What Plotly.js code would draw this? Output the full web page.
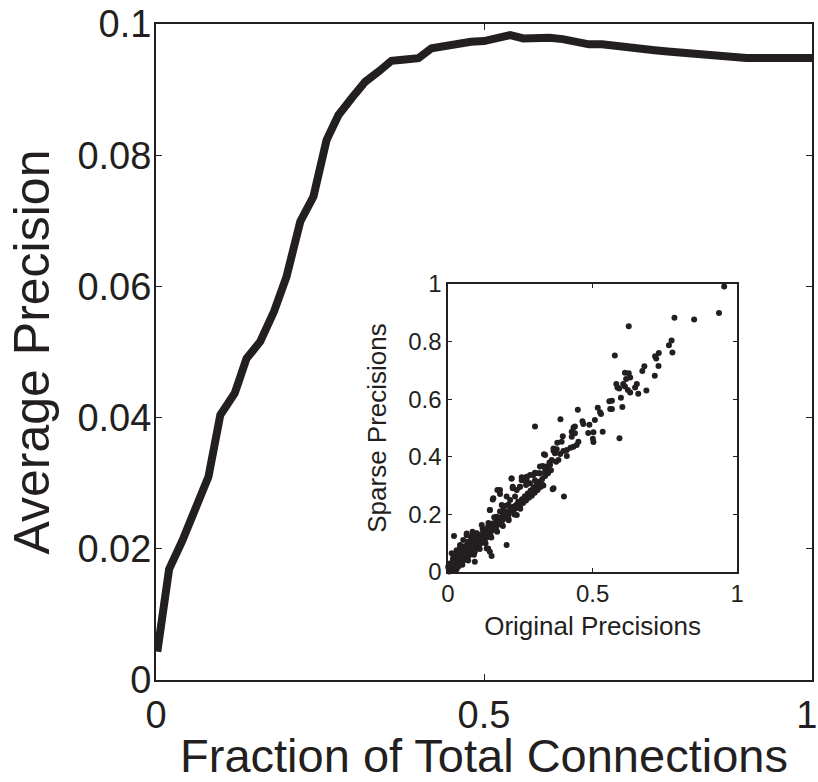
<!DOCTYPE html>
<html>
<head>
<meta charset="utf-8">
<script src="https://cdn.plot.ly/plotly-3.0.1.min.js"></script>
<style>html,body{margin:0;padding:0;background:#fff;}#chart{width:818px;height:782px;}</style>
</head>
<body>
<div id="chart"></div>
<script>
// Main curve: Average Precision vs Fraction of Total Connections
const fraction = [0.002,0.02,0.04,0.06,0.08,0.098,0.12,0.138,0.159,0.18,0.199,0.22,0.24,0.26,0.278,0.30,0.319,0.34,0.359,0.38,0.40,0.42,0.44,0.46,0.48,0.50,0.52,0.54,0.56,0.58,0.60,0.62,0.64,0.66,0.68,0.70,0.72,0.74,0.76,0.78,0.80,0.82,0.84,0.86,0.88,0.90,0.92,0.94,0.96,0.98,1.0];
const avgPrecision = [0.0043,0.0169,0.0212,0.0258,0.031,0.0404,0.0437,0.049,0.0516,0.0562,0.0615,0.0699,0.0737,0.0823,0.0861,0.0889,0.0912,0.0928,0.0944,0.0946,0.0948,0.0963,0.0967,0.0971,0.0973,0.0974,0.0978,0.0983,0.0978,0.0979,0.0979,0.0977,0.0973,0.0969,0.0969,0.0966,0.0964,0.0962,0.096,0.0958,0.0956,0.0954,0.0952,0.095,0.0949,0.0948,0.0948,0.0948,0.0948,0.0948,0.0948];

// Inset scatter: Original vs Sparse precisions
const originalPrec = [
0.955,0.937,0.851,0.783,0.625,0.773,0.764,0.776,0.729,0.716,0.720,0.577,0.679,0.728,0.672,0.715,0.612,0.625,0.616,0.630,0.606,0.582,0.586,0.653,0.647,0.612,0.622,0.630,0.658,0.686,0.592,0.598,0.603,0.567,0.558,0.567,0.561,0.518,0.526,0.529,0.508,0.449,0.389,0.465,0.468,0.489,0.535,0.485,0.503,0.501,0.503,0.593,0.434,0.439,0.428,0.439,0.428,0.451,0.445,0.434,0.424,0.411,0.399,0.397,0.378,0.393,0.376,0.365,0.388,0.411,0.332,0.359,0.374,0.351,0.341,0.328,0.301,0.347,0.336,0.318,0.301,0.284,0.272,0.255,
0.365,0.401,0.336,0.301,0.272,0.255,0.284,0.301,0.270,0.249,0.238,0.220,0.224,0.171,0.180,0.155,0.203,0.215,0.232,0.243,0.249,0.226,0.209,0.191,0.186,0.197,0.168,0.145,0.174,0.203,0.151,0.134,0.117,0.122,0.099,0.093,0.139,0.145,0.151,0.093,0.082,0.065,0.021,0.053,0.070,0.042,0.030,0.053,0.076,0.013,0.018,0.042,0.007,0.001,
0.365,0.370,0.382,0.336,0.353,0.341,0.362,0.318,0.313,0.295,0.301,0.278,0.261,0.249,0.220,0.224,0.180,0.157,0.145,0.186,0.209,0.243,0.238,0.209,0.191,0.174,0.157,0.139,0.122,0.134,0.111,0.088,0.065,0.085,0.042,0.070,0.093,0.059,0.036,0.018,0.042,0.007,
0.005,0.008,0.010,0.012,0.015,0.018,0.020,0.022,0.025,0.028,0.030,0.032,0.035,0.038,0.040,0.042,0.045,0.048,0.050,0.052,0.055,0.058,0.060,0.062,0.065,0.068,0.070,0.072,0.075,0.078,0.080,0.082,0.085,0.088,0.090,0.092,0.095,0.098,0.100,0.102,0.105,0.108,0.110,0.112,0.115,0.118,0.120,0.122,0.125,0.128,0.130,0.132,0.135,0.138,0.140,0.142,0.145,0.148,0.150,0.152,0.155,0.158,0.160,0.162,0.165,0.168,0.170,0.172,0.175,0.178,0.180,0.182,0.185,0.188,0.190,0.192,0.195,0.198,0.200,0.205,0.210,0.215,0.220,0.225,0.230,0.235,0.240,0.245,0.250,0.255,0.260,0.265,0.270,0.275,0.280,0.285,0.290,0.295,0.300,0.305,0.310,0.315,0.320,0.325,0.330,
0.020,0.030,0.040,0.050,0.060,0.070,0.080,0.100,0.120,0.140,0.160,0.180,0.200,0.030,0.050,0.070,0.090,0.110,0.130,0.150,0.170,0.190,0.210,0.230,0.250,
0.004,0.010,0.016,0.024,0.034,0.046,0.056,0.066,0.076,0.086,0.096,0.106,0.116,0.126,0.136,0.146,0.156,0.166,0.176,0.186,0.196,0.206,0.216,0.226,0.236,0.246,0.256,0.266,0.276,0.286,0.296,0.306,0.316,0.326,0.336,0.346,0.356,
0.003,0.006,0.009,0.013,0.017,0.021,0.026,0.031,0.036,0.041,0.047,0.053,0.059,0.064,0.069,0.074,0.079,0.084,0.089,0.094,0.099,0.104,0.109,0.114,0.119,0.124,0.129,0.134,0.139,0.144,
0.011,0.016,0.023,0.027,0.033,0.037,0.044,0.049,0.054,0.061,0.067,0.073,0.081,0.087,0.097,0.107,0.117,0.127,0.137,0.147,0.157,0.167,0.177,0.187,0.197
];
const sparsePrec = [
0.991,0.899,0.877,0.883,0.853,0.804,0.787,0.762,0.760,0.749,0.741,0.752,0.714,0.715,0.698,0.681,0.692,0.690,0.670,0.675,0.653,0.653,0.641,0.653,0.641,0.644,0.632,0.623,0.619,0.630,0.637,0.605,0.573,0.595,0.593,0.566,0.566,0.570,0.555,0.549,0.528,0.563,0.530,0.523,0.514,0.511,0.487,0.483,0.485,0.463,0.451,0.464,0.502,0.505,0.487,0.482,0.470,0.452,0.441,0.435,0.431,0.424,0.420,0.471,0.449,0.452,0.426,0.421,0.410,0.403,0.409,0.389,0.383,0.380,0.366,0.368,0.505,0.360,0.348,0.343,0.345,0.337,0.331,0.329,
0.291,0.262,0.360,0.343,0.325,0.319,0.308,0.285,0.302,0.296,0.285,0.325,0.296,0.285,0.271,0.252,0.262,0.250,0.262,0.239,0.221,0.227,0.233,0.227,0.209,0.192,0.192,0.215,0.169,0.094,0.157,0.146,0.163,0.128,0.134,0.123,0.082,0.070,0.056,0.036,0.123,0.134,0.125,0.111,0.100,0.088,0.076,0.070,0.070,0.065,0.048,0.042,0.030,0.018,
0.429,0.412,0.389,0.406,0.372,0.360,0.287,0.366,0.343,0.337,0.319,0.308,0.319,0.296,0.325,0.291,0.285,0.256,0.215,0.233,0.233,0.244,0.198,0.186,0.209,0.181,0.169,0.157,0.140,0.082,0.123,0.117,0.128,0.140,0.094,0.082,0.070,0.059,0.065,0.042,0.030,0.018,
0.003,0.010,0.006,0.015,0.008,0.020,0.012,0.025,0.018,0.030,0.022,0.035,0.028,0.040,0.032,0.045,0.038,0.050,0.042,0.056,0.048,0.062,0.052,0.066,0.058,0.072,0.062,0.078,0.068,0.082,0.072,0.088,0.078,0.092,0.082,0.098,0.088,0.102,0.092,0.108,0.098,0.112,0.102,0.118,0.108,0.122,0.112,0.128,0.118,0.132,0.122,0.138,0.128,0.142,0.132,0.148,0.138,0.152,0.142,0.158,0.148,0.162,0.152,0.168,0.158,0.172,0.162,0.178,0.168,0.182,0.172,0.188,0.178,0.192,0.182,0.198,0.188,0.202,0.192,0.208,0.200,0.215,0.210,0.222,0.218,0.230,0.225,0.238,0.232,0.245,0.240,0.252,0.248,0.262,0.258,0.270,0.265,0.280,0.275,0.290,0.285,0.298,0.295,0.305,0.300,
0.050,0.060,0.075,0.085,0.090,0.105,0.115,0.135,0.150,0.170,0.190,0.210,0.230,0.010,0.025,0.040,0.060,0.080,0.100,0.120,0.140,0.160,0.180,0.200,0.220,
0.002,0.008,0.014,0.020,0.030,0.042,0.053,0.063,0.073,0.083,0.093,0.103,0.113,0.123,0.133,0.143,0.153,0.163,0.173,0.183,0.193,0.203,0.213,0.223,0.233,0.243,0.253,0.263,0.273,0.283,0.293,0.303,0.313,0.323,0.333,0.343,0.353,
0.012,0.004,0.019,0.007,0.026,0.013,0.034,0.022,0.043,0.030,0.055,0.040,0.068,0.052,0.079,0.060,0.090,0.071,0.101,0.080,0.112,0.092,0.121,0.100,0.131,0.110,0.140,0.120,0.149,0.130,
0.030,0.005,0.040,0.014,0.048,0.020,0.058,0.033,0.066,0.045,0.077,0.058,0.090,0.070,0.110,0.090,0.128,0.106,0.150,0.128,0.168,0.146,0.188,0.165,0.210
];

const mainTickX = [0, 0.5, 1];
const mainTickXText = ['0', '0.5', '1\u00a0'];
const mainTickY = [0, 0.02, 0.04, 0.06, 0.08, 0.1];
const mainTickYText = ['0', '0.02', '0.04', '0.06', '0.08', '0.1'];
const insetTickX = [0, 0.5, 1];
const insetTickXText = ['0', '0.5', '1'];
const insetTickY = [0, 0.2, 0.4, 0.6, 0.8, 1];
const insetTickYText = ['0', '0.2', '0.4', '0.6', '0.8', '1'];

const ink = '#231f20';
const fam = 'Liberation Sans, Arial, Helvetica, sans-serif';

const traces = [
  {x: fraction, y: avgPrecision, type: 'scatter', mode: 'lines',
   line: {color: ink, width: 8}, xaxis: 'x', yaxis: 'y', hoverinfo: 'skip'},
  {x: originalPrec, y: sparsePrec, type: 'scatter', mode: 'markers',
   marker: {color: ink, size: 6}, xaxis: 'x2', yaxis: 'y2', cliponaxis: false, hoverinfo: 'skip'}
];

const layout = {
  width: 818, height: 782,
  margin: {l: 156, r: 6, t: 24, b: 102},
  paper_bgcolor: '#fff', plot_bgcolor: '#fff',
  showlegend: false,
  font: {family: fam, color: ink},
  xaxis: {
    domain: [0, 1], range: [0, 1], tickvals: mainTickX, ticktext: mainTickXText,
    ticks: 'inside', ticklen: 6, tickwidth: 1, tickcolor: ink,
    showline: true, linecolor: ink, linewidth: 2, mirror: 'ticks',
    showgrid: false, zeroline: false, ticklabeloverflow: 'allow',
    tickfont: {size: 38, family: fam, color: ink},
    title: {text: 'Fraction of Total Connections', font: {size: 47, family: fam, color: ink}, standoff: 2}
  },
  yaxis: {
    domain: [0, 1], range: [0, 0.1], tickvals: mainTickY, ticktext: mainTickYText,
    ticks: 'inside', ticklen: 6, tickwidth: 1, tickcolor: ink,
    showline: true, linecolor: ink, linewidth: 2, mirror: 'ticks',
    showgrid: false, zeroline: false, ticklabelstandoff: -5,
    tickfont: {size: 38, family: fam, color: ink},
    title: {text: 'Average Precision', font: {size: 50, family: fam, color: ink}, standoff: 12}
  },
  xaxis2: {
    domain: [0.445, 0.886], anchor: 'y2', range: [0, 1], tickvals: insetTickX, ticktext: insetTickXText,
    ticks: 'inside', ticklen: 4, tickwidth: 1, tickcolor: ink,
    showline: true, linecolor: ink, linewidth: 1.5, mirror: 'ticks',
    showgrid: false, zeroline: false,
    tickfont: {size: 24, family: fam, color: ink},
    title: {text: 'Original Precisions', font: {size: 26, family: fam, color: ink}, standoff: 10}
  },
  yaxis2: {
    domain: [0.1646, 0.6037], anchor: 'x2', range: [0, 1], tickvals: insetTickY, ticktext: insetTickYText,
    ticks: 'inside', ticklen: 4, tickwidth: 1, tickcolor: ink,
    showline: true, linecolor: ink, linewidth: 1.5, mirror: 'ticks',
    showgrid: false, zeroline: false,
    tickfont: {size: 24, family: fam, color: ink},
    title: {text: 'Sparse Precisions', font: {size: 26, family: fam, color: ink}, standoff: 14}
  }
};

Plotly.newPlot('chart', traces, layout, {staticPlot: true, displayModeBar: false});
</script>
</body>
</html>
